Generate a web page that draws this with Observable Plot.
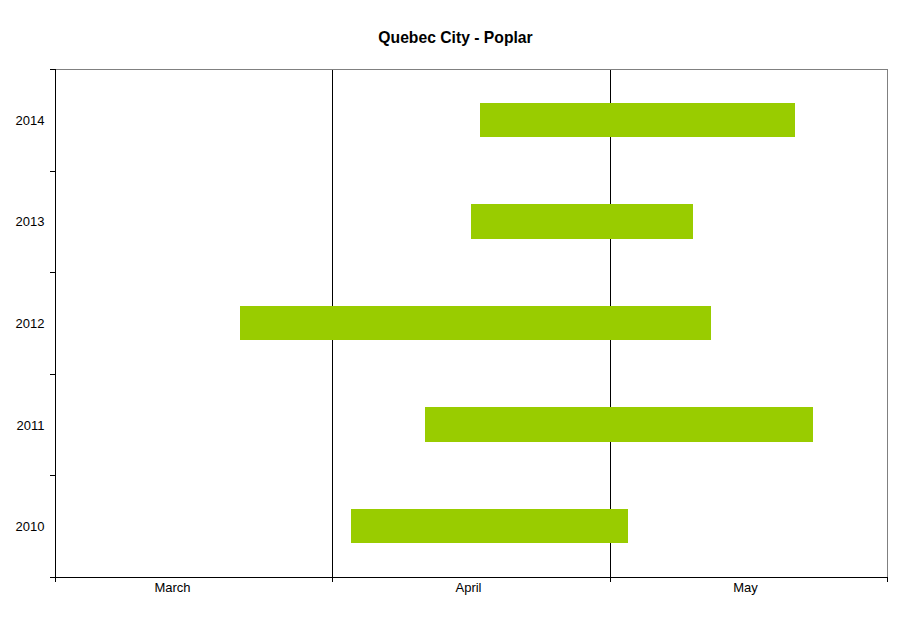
<!DOCTYPE html>
<html>
<head>
<meta charset="utf-8">
<script src="https://cdn.jsdelivr.net/npm/d3@7"></script>
<script src="https://cdn.jsdelivr.net/npm/@observablehq/plot@0.6"></script>
<style>
  html, body { margin: 0; padding: 0; background: #fff; }
</style>
</head>
<body>
<div id="chart"></div>
<script>
const title = "Quebec City - Poplar";
const years = [2014, 2013, 2012, 2011, 2010];
const starts = ["04-17", "04-16", "03-22", "04-11", "04-03"];
const ends = ["05-21", "05-10", "05-12", "05-23", "05-03"];
const monthLabels = ["March", "April", "May"];
const monthLabelDates = ["03-15", "04-16", "05-16"];
const axisRange = ["03-02", "05-31"];
const gridDates = ["04-01", "05-01"];

const parse = s => { const [m, d] = s.split("-").map(Number); return new Date(Date.UTC(2001, m - 1, d)); };

const data = years.map((y, i) => ({ year: y, start: parse(starts[i]), end: parse(ends[i]) }));
const domain = axisRange.map(parse);
const grid = gridDates.map(parse);
const labelMap = new Map(monthLabelDates.map((s, i) => [+parse(s), monthLabels[i]]));
const halfYears = [...years.map(y => y + 0.5), years[years.length - 1] - 0.5];

const chart = Plot.plot({
  width: 911,
  height: 623,
  marginLeft: 55,
  marginRight: 24,
  marginTop: 69,
  marginBottom: 46,
  style: { fontFamily: "'Liberation Sans', Arial, sans-serif", fontSize: "13px", background: "#fff", color: "#000" },
  x: { type: "utc", domain, round: true },
  y: { domain: [2009.5, 2014.5], round: true },
  marks: [
    Plot.ruleX(grid, { stroke: "#000", strokeWidth: 1 }),
    Plot.rectX(data, { x1: "start", x2: "end", y1: d => d.year - 0.17, y2: d => d.year + 0.17, fill: "#99cc00" }),
    Plot.ruleY([2014.5], { stroke: "#808080" }),
    Plot.ruleX([domain[1]], { stroke: "#808080" }),
    Plot.ruleX([domain[0]], { stroke: "#000" }),
    Plot.ruleY([2009.5], { stroke: "#000" }),
    Plot.axisX([domain[0], ...grid, domain[1]], { tickSize: 5, tickFormat: () => "", label: null, stroke: "#000" }),
    Plot.axisX(monthLabelDates.map(parse), { tickSize: 0, tickPadding: 5, dx: -3, tickFormat: d => labelMap.get(+d), label: null, fill: "#000" }),
    Plot.axisY(halfYears, { tickSize: 5, tickFormat: () => "", label: null, stroke: "#000" }),
    Plot.axisY(years, { tickSize: 0, tickPadding: 11, tickFormat: d => String(d), label: null, fill: "#000" }),
    Plot.text([title], { frameAnchor: "top", dy: -38, dx: -16, fontWeight: "bold", fontSize: 15.7, fill: "#000" })
  ]
});
document.getElementById("chart").appendChild(chart);
</script>
</body>
</html>
